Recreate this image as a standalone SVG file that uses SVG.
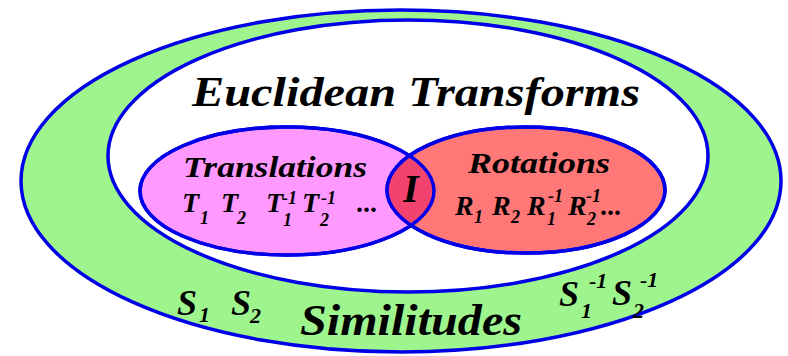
<svg xmlns="http://www.w3.org/2000/svg" width="788" height="356" viewBox="0 0 788 356">
<style>
.e{stroke:#0000e8;stroke-width:3.5}
.t{font-family:"Liberation Serif","Times New Roman",serif;font-weight:bold;font-style:italic;fill:#000}
.s{font-size:18px}
.s2{font-size:22px}
</style>
<defs>
<clipPath id="clipT"><ellipse cx="287" cy="191" rx="147" ry="64"/></clipPath>
</defs>
<rect width="788" height="356" fill="#fff"/>
<g id="similitudes">
<ellipse class="e" cx="401" cy="181" rx="380" ry="171" fill="#9ef58e"/>
</g>
<g id="euclidean">
<ellipse class="e" cx="408" cy="156" rx="300" ry="136" fill="#fff"/>
</g>
<g id="translations">
<ellipse class="e" cx="287" cy="191" rx="147" ry="64" fill="#ff99ff"/>
</g>
<g id="rotations">
<ellipse class="e" cx="526" cy="190" rx="139" ry="63" fill="#ff7777"/>
</g>
<g id="identity">
<ellipse cx="526" cy="190" rx="139" ry="63" fill="#f2436f" clip-path="url(#clipT)"/>
<ellipse cx="287" cy="191" rx="147" ry="64" fill="none" stroke="#0000e8" stroke-width="3.5"/>
<ellipse cx="526" cy="190" rx="139" ry="63" fill="none" stroke="#0000e8" stroke-width="3.5"/>
<text class="t" x="403" y="202" font-size="40">I</text>
</g>
<g id="labels">
<text class="t" x="192" y="106" font-size="42" textLength="448" lengthAdjust="spacingAndGlyphs">Euclidean Transforms</text>
<text class="t" x="183" y="177" font-size="30" textLength="184" lengthAdjust="spacingAndGlyphs">Translations</text>
<text class="t" x="468" y="173" font-size="29" textLength="142" lengthAdjust="spacingAndGlyphs">Rotations</text>
<text class="t" x="300" y="335" font-size="44" textLength="222" lengthAdjust="spacingAndGlyphs">Similitudes</text>
</g>
<g id="translation-elements" class="t" font-size="28">
<text x="182" y="212">T<tspan class="s" x="200" y="224">1</tspan></text>
<text x="221" y="212">T<tspan class="s" x="237" y="224">2</tspan></text>
<text x="266" y="212">T<tspan class="s" x="283" y="226">1</tspan><tspan class="s" x="282" y="204">-1</tspan></text>
<text x="302" y="212">T<tspan class="s" x="320" y="226">2</tspan><tspan class="s" x="321" y="204">-1</tspan></text>
<text x="357" y="212">...</text>
</g>
<g id="rotation-elements" class="t" font-size="28">
<text x="455" y="215">R<tspan class="s" x="474" y="223">1</tspan></text>
<text x="492" y="215">R<tspan class="s" x="511" y="223">2</tspan></text>
<text x="527" y="215">R<tspan class="s" x="547" y="225">1</tspan><tspan class="s" x="548" y="202">-1</tspan></text>
<text x="568" y="215">R<tspan class="s" x="587" y="225">2</tspan><tspan class="s" x="586" y="202">-1</tspan><tspan x="601" y="215">...</tspan></text>
</g>
<g id="similitude-elements" class="t" font-size="36">
<text x="177" y="315">S<tspan class="s2" x="199" y="322">1</tspan></text>
<text x="231" y="315">S<tspan class="s2" x="250" y="323">2</tspan></text>
<text x="559" y="306">S<tspan class="s2" x="581" y="318">1</tspan><tspan class="s2" x="589" y="288">-1</tspan></text>
<text x="612" y="305">S<tspan class="s2" x="633" y="318">2</tspan><tspan class="s2" x="640" y="287">-1</tspan></text>
</g>
</svg>
